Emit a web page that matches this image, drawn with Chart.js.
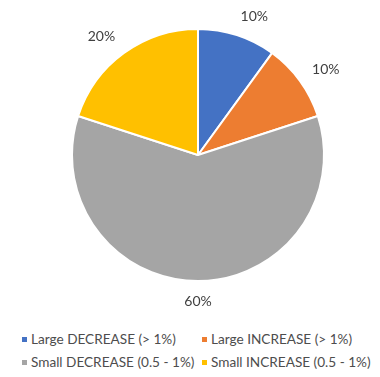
<!DOCTYPE html>
<html>
<head>
<meta charset="utf-8">
<script src="https://cdn.jsdelivr.net/npm/chart.js@4"></script>
<style>
  html, body { margin: 0; padding: 0; background: #ffffff; }
  #wrap { position: relative; width: 380px; height: 377px; overflow: hidden; }
  #pie { position: absolute; left: 0; top: 0; }
  #legend {
    position: absolute; left: 22px; top: 332px;
    display: grid; grid-template-columns: 180px 180px; row-gap: 9px;
    font-family: Lato, "Open Sans", sans-serif; font-size: 13.6px; color: #4d4d4d;
  }
  .item { display: flex; align-items: center; height: 14px; white-space: nowrap; }
  .swatch { width: 5px; height: 5px; margin-right: 4px; flex: none; }
</style>
</head>
<body>
<div id="wrap">
  <canvas id="pie" width="380" height="322"></canvas>
  <div id="legend"></div>
</div>
<script>
// Share of moves by size and direction
const categories = [
  'Large DECREASE (> 1%)',
  'Large INCREASE (> 1%)',
  'Small DECREASE (0.5 - 1%)',
  'Small INCREASE (0.5 - 1%)'
];
const shares = [10, 10, 60, 20];
const sliceColors = ['#4472C4', '#ED7D31', '#A5A5A5', '#FFC000'];

// Percentage labels placed just outside each slice, along its mid angle
const outsideLabels = {
  id: 'outsideLabels',
  afterDatasetsDraw(chart) {
    const ctx = chart.ctx;
    const meta = chart.getDatasetMeta(0);
    ctx.save();
    ctx.font = '14px Lato, "Open Sans", sans-serif';
    ctx.fillStyle = '#404040';
    ctx.textAlign = 'center';
    ctx.textBaseline = 'middle';
    meta.data.forEach((arc, i) => {
      const p = arc.getProps(['x', 'y', 'startAngle', 'endAngle', 'outerRadius'], true);
      const mid = (p.startAngle + p.endAngle) / 2;
      const r = p.outerRadius + 15;
      const s = Math.cos(mid), c = Math.sin(mid);
      const text = shares[i] + '%';
      const w = ctx.measureText(text).width;
      const dx = Math.max(-1, Math.min(1, s * 3)) * w / 2;
      const dy = c * 5;
      ctx.fillText(text, p.x + r * s + dx, p.y + r * c + dy);
    });
    ctx.restore();
  }
};

const chart = new Chart(document.getElementById('pie'), {
  type: 'pie',
  data: {
    labels: categories,
    datasets: [{
      data: shares,
      backgroundColor: sliceColors,
      borderColor: '#ffffff',
      borderWidth: 2
    }]
  },
  options: {
    responsive: false,
    animation: false,
    layout: { padding: { left: 16, top: 28, bottom: 40, right: 0 } },
    plugins: {
      legend: { display: false },
      tooltip: { enabled: false }
    }
  },
  plugins: [outsideLabels]
});

// Two-column legend built from the chart's own legend items
const legendEl = document.getElementById('legend');
Chart.overrides.pie.plugins.legend.labels.generateLabels(chart).forEach(item => {
  const row = document.createElement('div');
  row.className = 'item';
  const sw = document.createElement('span');
  sw.className = 'swatch';
  sw.style.background = item.fillStyle;
  const label = document.createElement('span');
  label.textContent = item.text;
  row.appendChild(sw);
  row.appendChild(label);
  legendEl.appendChild(row);
});
</script>
</body>
</html>
